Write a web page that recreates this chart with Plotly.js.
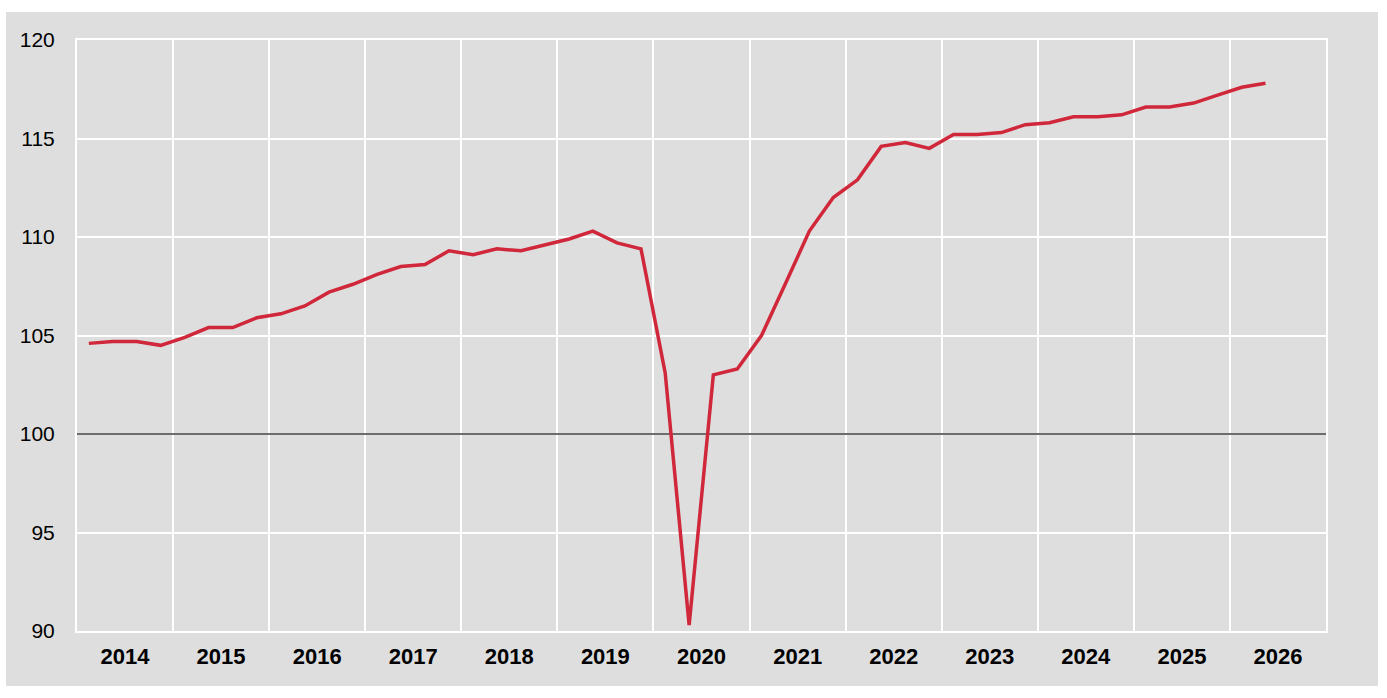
<!DOCTYPE html>
<html>
<head>
<meta charset="utf-8">
<script src="https://cdn.plot.ly/plotly-3.0.1.min.js"></script>
<style>
  body { margin: 0; background: #ffffff; }
  #chart { position: absolute; left: 6px; top: 12px; width: 1372px; height: 674px; }
</style>
</head>
<body>
<div id="chart"></div>
<script>
// quarterly index, 2014Q1 - 2026Q2
let years = [2014, 2015, 2016, 2017, 2018, 2019, 2020, 2021, 2022, 2023, 2024, 2025, 2026];
let quarter_mid = ["02-15", "05-16", "08-16", "11-15"];

let index_values = [
    104.6, 104.7, 104.7, 104.5,
    104.9, 105.4, 105.4, 105.9,
    106.1, 106.5, 107.2, 107.6,
    108.1, 108.5, 108.6, 109.3,
    109.1, 109.4, 109.3, 109.6,
    109.9, 110.3, 109.7, 109.4,
    103.1, 90.3, 103.0, 103.3,
    105.0, 107.6, 110.3, 112.0,
    112.9, 114.6, 114.8, 114.5,
    115.2, 115.2, 115.3, 115.7,
    115.8, 116.1, 116.1, 116.2,
    116.6, 116.6, 116.8, 117.2,
    117.6, 117.8
];

let y_ticks = [90, 95, 100, 105, 110, 115, 120];
let baseline = 100;

let dates = [];
for (let i = 0; i < index_values.length; i++) {
    let yr = years[Math.floor(i / 4)];
    dates[i] = yr + "-" + quarter_mid[i % 4];
}

let x_start = years[0] + '-01-01';
let x_end = (years[years.length - 1] + 1) + '-01-01';

let grey = '#dedede';
let font = '"Liberation Sans", Arial, sans-serif';

// reference line at 100, drawn under the index line
let base = {
    x: [x_start, x_end],
    y: [baseline, baseline],
    mode: 'lines',
    line: { color: '#3c3c3c', width: 1.5 },
    hoverinfo: 'skip'
};

let line = {
    x: dates,
    y: index_values,
    mode: 'lines',
    line: { color: '#d0273a', width: 3.5 },
    hoverinfo: 'skip'
};

let layout = {
    width: 1372,
    height: 674,
    margin: { l: 71, r: 52, t: 28, b: 55 },
    paper_bgcolor: grey,
    plot_bgcolor: grey,
    showlegend: false,
    xaxis: {
        type: 'date',
        range: [x_start, x_end],
        tick0: x_start,
        dtick: 'M12',
        tickformat: '%Y',
        ticklabelmode: 'period',
        ticks: '',
        ticklabelstandoff: 5,
        showgrid: true,
        gridcolor: '#ffffff',
        gridwidth: 2,
        showline: true,
        linecolor: '#ffffff',
        linewidth: 2,
        mirror: true,
        zeroline: false,
        tickfont: { family: font, size: 22, color: '#000000', weight: 'bold' }
    },
    yaxis: {
        range: [y_ticks[0], y_ticks[y_ticks.length - 1]],
        tickvals: y_ticks,
        ticks: '',
        ticklabelstandoff: 16,
        showgrid: true,
        gridcolor: '#ffffff',
        gridwidth: 2,
        showline: true,
        linecolor: '#ffffff',
        linewidth: 2,
        mirror: true,
        zeroline: false,
        tickfont: { family: font, size: 21, color: '#000000' }
    }
};

Plotly.newPlot('chart', [base, line], layout, { staticPlot: true, displayModeBar: false });
</script>
</body>
</html>
